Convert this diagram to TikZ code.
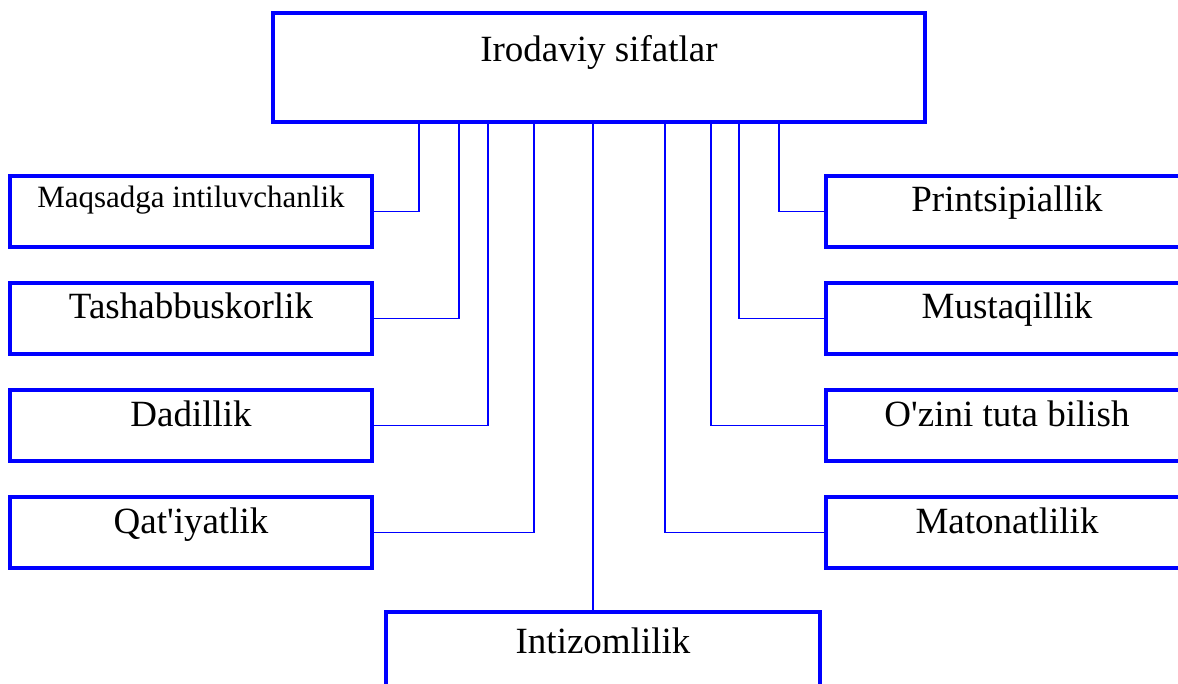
\documentclass[tikz,border=0pt]{standalone}
\usepackage{fontspec}
\setmainfont{Liberation Serif}
\begin{document}
\begin{tikzpicture}[x=1pt,y=-1pt,
  box/.style={draw=blue, line width=4pt, inner sep=0pt, outer sep=0pt, anchor=north west, font=\fontsize{37}{40}\selectfont},
  sidebox/.style={box, minimum width=362pt, minimum height=71pt, text height=36pt, text depth=35pt},
  conn/.style={draw=blue, line width=1.6pt}]
\useasboundingbox (0,0) rectangle (1178,684);
% top
\node[box, minimum width=652pt, minimum height=109pt, text height=49pt, text depth=60pt] (top) at (273,13) {Irodaviy sifatlar};
% left column
\node[sidebox, font=\fontsize{31}{34}\selectfont, text height=32pt, text depth=39pt] (l1) at (10,176) {Maqsadga intiluvchanlik};
\node[sidebox] (l2) at (10,283) {Tashabbuskorlik};
\node[sidebox] (l3) at (10,390) {Dadillik};
\node[sidebox] (l4) at (10,497) {Qat\textquotesingle iyatlik};
% right column
\node[sidebox] (r1) at (826,176) {Printsipiallik};
\node[sidebox] (r2) at (826,283) {Mustaqillik};
\node[sidebox] (r3) at (826,390) {O\textquotesingle zini tuta bilish};
\node[sidebox] (r4) at (826,497) {Matonatlilik};
% bottom
\node[box, minimum width=434pt, minimum height=90pt, text height=41pt, text depth=49pt] (b) at (386,612) {Intizomlilik};
% connectors
\draw[conn] (l1.east) -| ([xshift=-180pt]top.south);
\draw[conn] (l2.east) -| ([xshift=-140pt]top.south);
\draw[conn] (l3.east) -| ([xshift=-111pt]top.south);
\draw[conn] (l4.east) -| ([xshift=-65pt]top.south);
\draw[conn] ([xshift=-6pt]top.south) -- ([xshift=-6pt]top.south |- b.north);
\draw[conn] (r4.west) -| ([xshift=66pt]top.south);
\draw[conn] (r3.west) -| ([xshift=112pt]top.south);
\draw[conn] (r2.west) -| ([xshift=140pt]top.south);
\draw[conn] (r1.west) -| ([xshift=180pt]top.south);
\end{tikzpicture}
\end{document}
